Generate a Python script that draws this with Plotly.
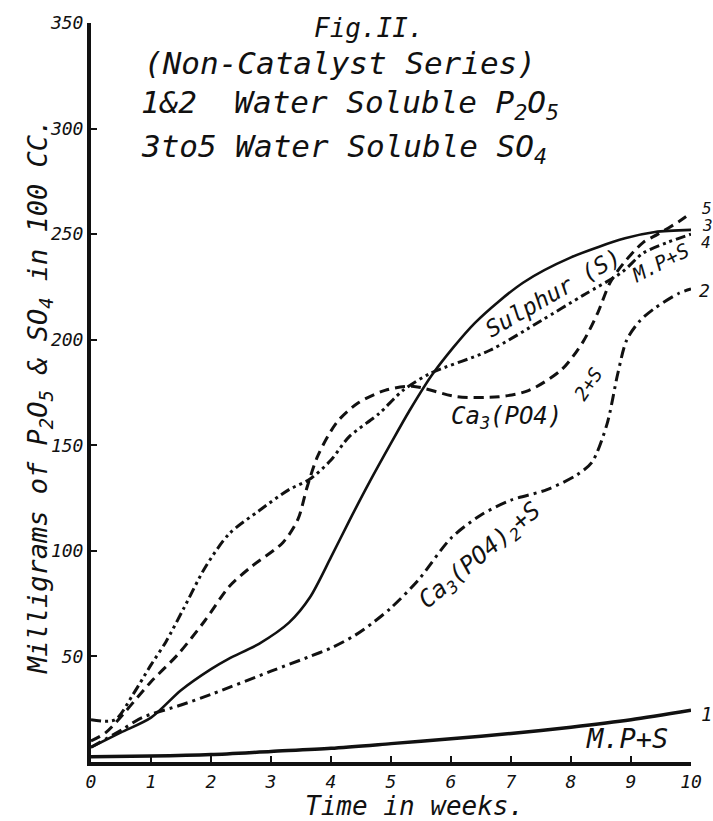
import plotly.graph_objects as go

# ---------------- data ----------------
# Curve 1: M.P + S, water soluble P2O5 (solid, low)
x1 = [0, 1, 2, 3, 4, 5, 6, 7, 8, 9, 10]
y1 = [2.5, 2.8, 3.5, 5, 6.5, 8.7, 11, 13.5, 16.5, 20, 24.5]

# Curve 2: Ca3(PO4)2 + S, water soluble P2O5 (dash-dot)
x2 = [0, 0.5, 0.85, 1.5, 2, 3, 3.65, 4, 4.4, 4.7, 5, 5.45, 6, 6.5, 7, 7.6, 8.1, 8.35, 8.6, 8.78, 8.93, 9.15, 9.4, 9.8, 10]
y2 = [7, 15, 21, 27, 32, 43, 50, 54, 60, 66, 73, 86, 106, 117, 124, 129, 136, 142, 160, 184, 200, 209, 215, 222, 224]

# Curve 3: Sulphur (S), water soluble SO4 (solid)
x3 = [0, 0.5, 1, 1.5, 2, 2.3, 2.8, 3.3, 3.65, 4, 4.3, 4.65, 5, 5.3, 5.7, 6.4, 7.2, 8, 8.9, 9.4, 10]
y3 = [7, 14, 21, 34, 44, 49, 56, 66, 78, 97, 114, 133, 151, 166, 184, 208, 227, 239, 248, 251, 252]

# Curve 4: M.P + S, water soluble SO4 (dash-dot-dot)
x4 = [0, 0.4, 0.7, 1, 1.25, 1.55, 1.9, 2.3, 2.8, 3.3, 3.65, 4, 4.3, 4.8, 5.2, 5.65, 6.65, 7.5, 8.2, 8.85, 9.2, 9.6, 10]
y4 = [20, 20, 32, 46, 57, 73, 92, 108, 119, 129, 134, 143, 154, 165, 176, 184, 195, 209, 221, 232, 241, 246, 250]

# Curve 5: Ca3(PO4)2 + S, water soluble SO4 (dashed)
x5 = [0, 0.25, 1, 1.45, 1.9, 2.3, 2.65, 3.2, 3.45, 3.6, 3.78, 4.1, 4.45, 4.9, 5.35, 6.1, 6.8, 7.3, 7.85, 8.2, 8.45, 8.65, 8.87, 9.2, 9.45, 9.8, 10]
y5 = [10, 14, 38, 51, 67, 83, 92, 104, 115, 130, 145, 161, 170, 176, 178, 173, 173, 176, 186, 199, 213, 227, 236, 246, 250, 256, 260]

x_ticks = [0, 1, 2, 3, 4, 5, 6, 7, 8, 9, 10]
y_ticks = [50, 100, 150, 200, 250, 300, 350]

# ---------------- styling ----------------
FONT = "DejaVu Sans Mono"
INK = "#111111"
W, H = 713, 821
L, R, T, B = 91, 22, 23, 59

def fx(px):  # pixel x -> paper x
    return (px - L) / (W - L - R)

def fy(py):  # pixel y -> paper y
    return (H - B - py) / (H - T - B)

fig = go.Figure()

def add(x, y, dash, width, name):
    fig.add_trace(go.Scatter(
        x=x, y=y, mode="lines", name=name,
        line=dict(color=INK, width=width, dash=dash, shape="spline", smoothing=0.8),
        showlegend=False, cliponaxis=False,
    ))

add(x1, y1, "solid", 3.5, "1 M.P+S (P2O5)")
add(x2, y2, "11px,5px,3px,5px", 3, "2 Ca3(PO4)2+S (P2O5)")
add(x3, y3, "solid", 2.6, "3 Sulphur (SO4)")
add(x4, y4, "10px,4px,3px,4px,3px,4px", 3, "4 M.P+S (SO4)")
add(x5, y5, "10px,6px", 3, "5 Ca3(PO4)2+S (SO4)")

ann = []

def txt(text, px, py, size, angle=0, xanchor="center"):
    ann.append(dict(
        text=text, x=fx(px), y=fy(py), xref="paper", yref="paper",
        showarrow=False, textangle=angle, xanchor=xanchor, yanchor="middle",
        font=dict(family=FONT, size=size, color=INK, style="italic"),
    ))

# headings
txt("Fig.II.", 369, 28, 26)
txt("(Non-Catalyst Series)", 340, 63, 31)
txt("1&2  Water Soluble P<sub>2</sub>O<sub>5</sub>", 139, 104, 31, xanchor="left")
txt("3to5 Water Soluble SO<sub>4</sub>", 139, 148, 31, xanchor="left")

# axis titles
txt("Milligrams of P<sub>2</sub>O<sub>5</sub> & SO<sub>4</sub> in 100 CC.", 39, 397, 27, angle=-90)
txt("Time in weeks.", 414, 806, 26)

# curve labels
txt("Sulphur (S)", 553, 293, 23, angle=-30)
txt("Ca<sub>3</sub>(PO4)", 506, 417, 24)
txt("2+S", 588, 384, 19, angle=-56)
txt("Ca<sub>3</sub>(PO4)<sub>2</sub>+S", 480, 556, 24, angle=-40)
txt("M.P+S", 660, 263, 20, angle=-27)
txt("M.P+S", 627, 738, 27)

# curve numbers
txt("1", 706, 714, 19)
txt("2", 704, 290, 18)
txt("5", 707, 208, 16)
txt("3", 707, 225, 16)
txt("4", 706, 242, 16)

axis_font = dict(family=FONT, size=18, color=INK, style="italic")

fig.update_layout(
    width=W, height=H,
    margin=dict(l=L, r=R, t=T, b=B, pad=0),
    paper_bgcolor="white", plot_bgcolor="white",
    annotations=ann,
    xaxis=dict(
        range=[0, 10], tickvals=x_ticks, ticktext=[str(v) for v in x_ticks],
        showline=True, linecolor=INK, linewidth=4, mirror=False,
        ticks="inside", ticklen=6, tickwidth=2, tickcolor=INK,
        showgrid=False, zeroline=False, tickfont=axis_font,
    ),
    yaxis=dict(
        range=[0, 350], tickvals=y_ticks, ticktext=[str(v) for v in y_ticks],
        showline=True, linecolor=INK, linewidth=4, mirror=False,
        ticks="inside", ticklen=6, tickwidth=2, tickcolor=INK,
        showgrid=False, zeroline=False, tickfont=axis_font,
    ),
)

fig.write_html("out.html")
